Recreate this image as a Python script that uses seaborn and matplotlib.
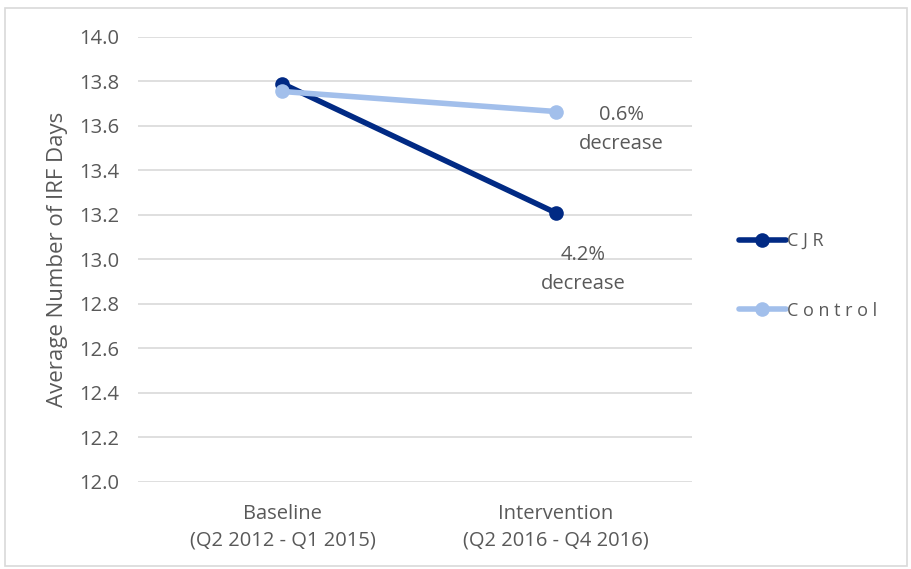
import matplotlib
matplotlib.use("Agg")
import matplotlib.pyplot as plt
import seaborn as sns
import pandas as pd
from matplotlib.patches import Rectangle

periods = ["Baseline\n(Q2 2012 - Q1 2015)", "Intervention\n(Q2 2016 - Q4 2016)"]
cjr_days = [13.79, 13.21]
control_days = [13.755, 13.665]
notes = ["4.2%\ndecrease", "0.6%\ndecrease"]

df = pd.DataFrame({
    "period": [0, 1, 0, 1],
    "days": cjr_days + control_days,
    "group": ["CJR", "CJR", "Control", "Control"],
})

sns.set_style("white")
plt.rcParams["font.family"] = ["Open Sans", "DejaVu Sans"]
text_col = "#595959"

fig = plt.figure(figsize=(9.12, 5.69), dpi=100)
ax = fig.add_axes([0.151, 0.153, 0.608, 0.782])

palette = {"CJR": "#012A84", "Control": "#A2BFEB"}
sns.lineplot(data=df, x="period", y="days", hue="group", palette=palette,
             marker="o", markersize=10.5, markeredgewidth=0, linewidth=4,
             ax=ax, legend=False, zorder=3)

ax.set_ylim(12.0, 14.0)
ax.set_xlim(-0.53, 1.5)
ax.set_yticks([12.0 + 0.2 * i for i in range(11)])
ax.set_yticklabels([f"{12.0 + 0.2 * i:.1f}" for i in range(11)])
ax.set_xticks([0, 1])
ax.set_xticklabels(periods, linespacing=1.45)
ax.tick_params(axis="both", length=0, labelsize=14.5, colors=text_col)
ax.tick_params(axis="x", pad=16)
ax.tick_params(axis="y", pad=13)
ax.grid(axis="y", color="#D9D9D9", linewidth=1.2)
ax.set_axisbelow(True)
for s in ax.spines.values():
    s.set_visible(False)
ax.set_xlabel("")
ax.set_ylabel("Average Number of IRF Days", fontsize=16, color=text_col, labelpad=8)

# annotations
ax.text(1.1, 12.955, notes[0], ha="center", va="center", fontsize=14.5,
        color=text_col, linespacing=1.6)
ax.text(1.24, 13.585, notes[1], ha="center", va="center", fontsize=14.5,
        color=text_col, linespacing=1.6)

# legend
handles = [plt.Line2D([], [], color=palette[g], marker="o", markersize=10.5,
                      linewidth=4, markeredgewidth=0) for g in ["CJR", "Control"]]
leg = fig.legend(handles, ["C J R", "C o n t r o l"], loc="center left",
                 bbox_to_anchor=(0.793, 0.515), frameon=False, fontsize=13,
                 labelspacing=2.85, handlelength=2.55, handletextpad=0.1)
for t in leg.get_texts():
    t.set_color(text_col)

fig.patches.append(Rectangle((0.006, 0.006), 0.988, 0.98, transform=fig.transFigure,
                             fill=False, edgecolor="#D9D9D9", linewidth=1.2))

fig.savefig("out.png", dpi=100)
